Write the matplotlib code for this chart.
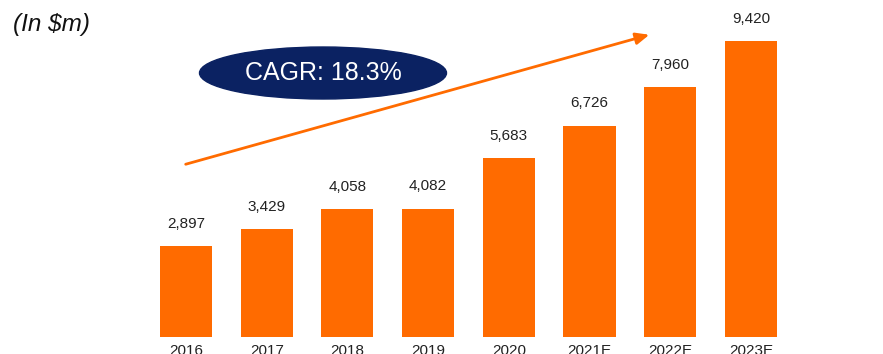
import matplotlib
matplotlib.use('Agg')
from matplotlib import pyplot as plt
from matplotlib.patches import Ellipse

# Revenue by year, $m
years = ['2016', '2017', '2018', '2019', '2020', '2021E', '2022E', '2023E']
revenue = [2897, 3429, 4058, 4082, 5683, 6726, 7960, 9420]
cagr_label = 'CAGR: 18.3%'

ORANGE = '#FF6B00'
NAVY = '#0B2262'

plt.rcParams['font.family'] = ['Liberation Sans', 'DejaVu Sans']

fig = plt.figure(figsize=(8.83, 3.54), dpi=100)
ax = fig.add_axes([0, 17 / 354, 1, 337 / 354])

x = list(range(len(years)))
ax.bar(x, revenue, width=0.645, color=ORANGE)

for xi, v in zip(x, revenue):
    ax.annotate('{:,}'.format(v), (xi, v), xytext=(0, 11), textcoords='offset points',
                ha='center', va='bottom', fontsize=11, color='#222222')

ax.set_xlim(-186 / 80.7, (883 - 186) / 80.7)
ax.set_ylim(0, 337 * 31.82)
ax.set_xticks(x)
ax.set_xticklabels(years, fontsize=11, color='#222222')
ax.tick_params(axis='x', length=0, pad=5)
ax.set_yticks([])
for s in ax.spines.values():
    s.set_visible(False)
ax.patch.set_alpha(0)

# units note
fig.text(13 / 883, 1 - 25 / 354, '(In $m)', fontsize=17.5, style='italic',
         ha='left', va='center', color='#111111')

# growth arrow
fig.patches.append(matplotlib.patches.FancyArrowPatch(
    (183 / 883, 1 - 165 / 354), (652 / 883, 1 - 34 / 354),
    transform=fig.transFigure, arrowstyle='-|>,head_length=8,head_width=3.5',
    color=ORANGE, lw=2, mutation_scale=1))

# CAGR badge
fig.patches.append(Ellipse((323 / 883, 1 - 73 / 354), 247 / 883, 52 / 354,
                           transform=fig.transFigure, color=NAVY))
fig.text(323 / 883, 1 - 73 / 354, cagr_label, fontsize=18, color='white',
         ha='center', va='center')

fig.savefig('out.png', dpi=100)
